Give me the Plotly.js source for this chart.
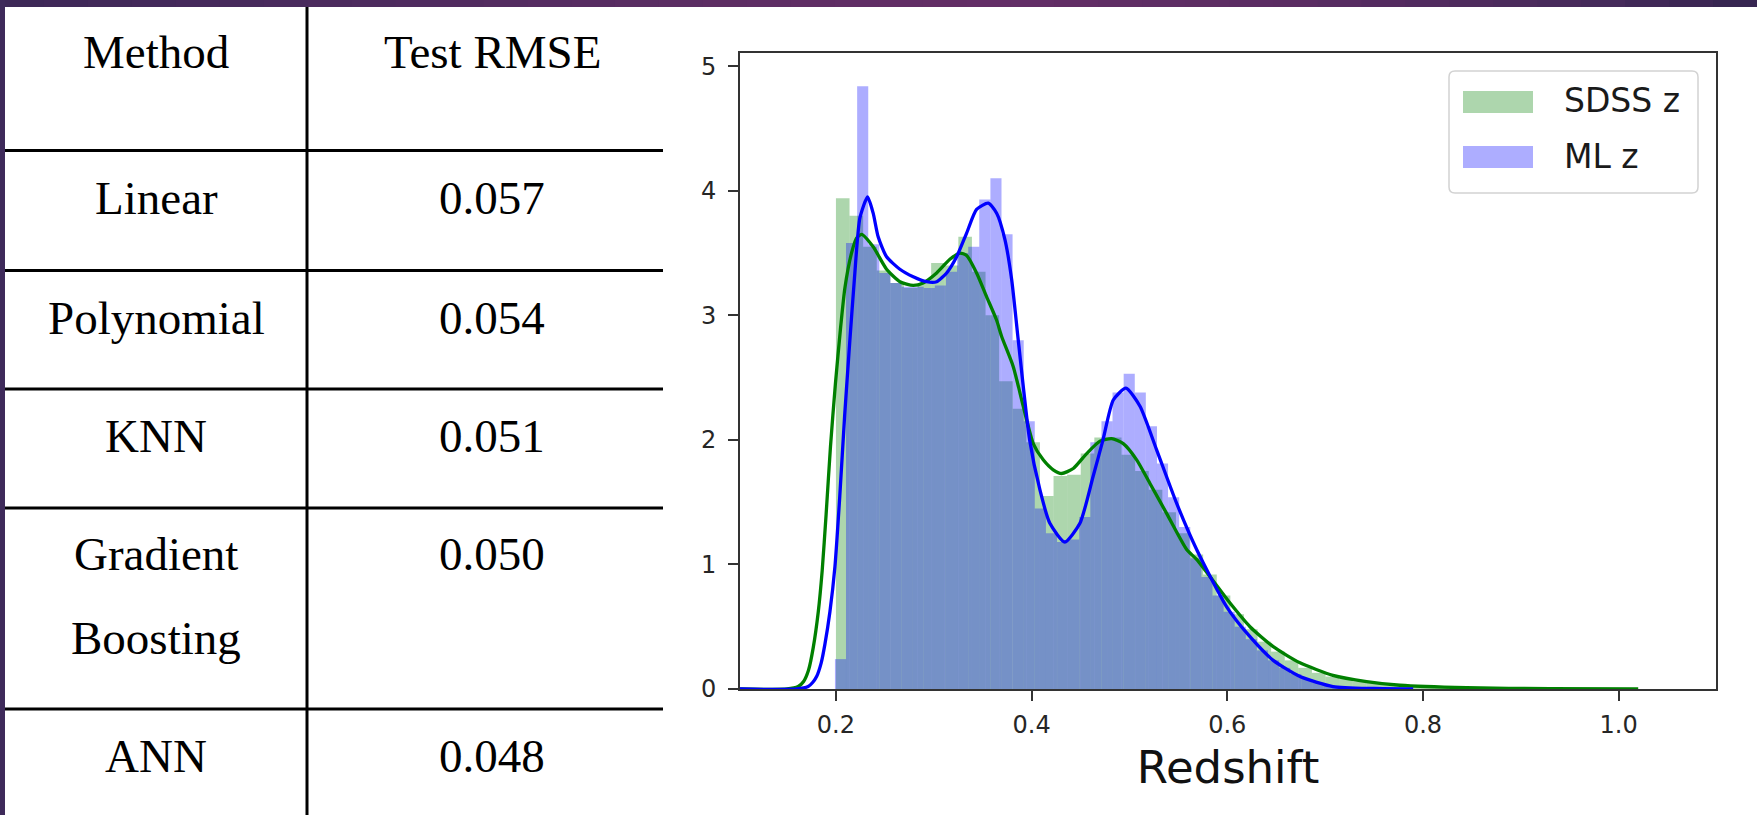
<!DOCTYPE html>
<html>
<head>
<meta charset="utf-8">
<script src="https://cdn.plot.ly/plotly-3.0.1.min.js"></script>
<style>
html,body{margin:0;padding:0;background:#ffffff;overflow:hidden;}
#chart{width:1757px;height:815px;}
</style>
</head>
<body>
<div id="chart"></div>
<script>
// ---------------- DATA ----------------
const tableHeader = ["Method", "Test RMSE"];
const methods = ["Linear", "Polynomial", "KNN", "Gradient Boosting", "ANN"];
const testRmse = [0.057, 0.054, 0.051, 0.050, 0.048];

const seriesNames = ["SDSS z", "ML z"];

const sdssBinCenters = [0.2070,0.2209,0.2348,0.2487,0.2626,0.2765,0.2904,0.3043,0.3182,0.3321,
  0.3460,0.3599,0.3738,0.3877,0.4016,0.4155,0.4294,0.4433,0.4572,0.4711,
  0.4850,0.4989,0.5128,0.5267,0.5406,0.5545,0.5684,0.5823,0.5962,0.6101,
  0.6240,0.6379,0.6518,0.6657,0.6796,0.6935,0.7074,0.7213,0.7352,0.7491,
  0.7630,0.7769,0.7908,0.8047,0.8186];
const sdssBinHeights = [3.94,3.80,3.55,3.36,3.26,3.22,3.26,3.42,3.40,3.63,
  3.35,3.00,2.47,2.25,1.98,1.55,1.71,1.72,1.89,2.02,
  2.02,1.88,1.75,1.60,1.42,1.25,1.08,0.92,0.75,0.60,
  0.48,0.38,0.30,0.23,0.17,0.13,0.10,0.08,0.06,0.05,
  0.04,0.03,0.02,0.015,0.01];

const mlBinCenters = [0.2047,0.2160,0.2274,0.2387,0.2501,0.2614,0.2728,0.2841,0.2955,0.3068,
  0.3182,0.3295,0.3409,0.3522,0.3636,0.3749,0.3863,0.3976,0.4090,0.4203,
  0.4317,0.4430,0.4544,0.4657,0.4771,0.4884,0.4998,0.5111,0.5225,0.5338,
  0.5452,0.5565,0.5679,0.5792,0.5906,0.6019,0.6133,0.6246,0.6360,0.6473,
  0.6587,0.6700,0.6814,0.6927,0.7041,0.7154,0.7268];
const mlBinHeights = [0.24,3.58,4.84,3.57,3.34,3.26,3.23,3.23,3.22,3.24,
  3.35,3.50,3.55,3.93,4.10,3.65,2.80,2.15,1.45,1.25,
  1.18,1.20,1.38,1.98,2.15,2.38,2.53,2.38,2.11,1.81,
  1.54,1.30,1.05,0.90,0.75,0.62,0.50,0.40,0.31,0.23,
  0.17,0.12,0.08,0.05,0.03,0.02,0.01];

const sdssKdeX = [0.102,0.150,0.1615,0.167,0.172,0.1768,0.182,0.186,0.190,0.1945,0.1995,0.2048,0.2092,0.2160,0.2211,0.2263,
  0.2381,0.2518,0.2654,0.2790,0.2892,0.3030,0.3165,0.3268,0.3336,0.3438,0.3540,0.3643,0.3694,0.3812,0.3915,
  0.4017,0.4119,0.4221,0.4307,0.4426,0.4563,0.4699,0.4818,0.4937,0.5074,0.5210,0.5380,0.5585,0.5687,0.6028,
  0.6232,0.6470,0.6743,0.7080,0.7424,0.7765,0.8447,0.9300,1.0200];
const sdssKdeY = [0,0,0.02,0.06,0.15,0.33,0.62,0.95,1.40,1.95,2.45,2.90,3.22,3.50,3.62,3.65,
  3.55,3.37,3.27,3.24,3.26,3.34,3.45,3.50,3.48,3.34,3.15,2.96,2.83,2.59,2.27,
  1.97,1.84,1.76,1.73,1.77,1.89,1.99,2.01,1.97,1.84,1.65,1.41,1.12,1.04,0.69,
  0.50,0.34,0.21,0.11,0.06,0.03,0.01,0.003,0];

const mlKdeX = [0.102,0.160,0.1717,0.1760,0.1803,0.1850,0.1888,0.1939,0.1990,0.2040,0.2090,0.2143,0.2190,0.2245,0.2324,0.2381,0.2432,
  0.2518,0.2654,0.2790,0.2926,0.3030,0.3132,0.3234,0.3336,0.3438,0.3557,0.3643,0.3727,0.3796,0.3864,0.3980,
  0.4085,0.4187,0.4340,0.4494,0.4630,0.4730,0.4835,0.4964,0.5108,0.5278,0.5483,0.5687,0.5994,0.6232,0.6470,
  0.6743,0.7080,0.7500,0.7900];
const mlKdeY = [0,0,0.02,0.05,0.10,0.21,0.36,0.62,0.98,1.55,2.20,2.80,3.30,3.78,3.95,3.82,3.63,
  3.47,3.37,3.31,3.27,3.27,3.34,3.47,3.66,3.85,3.90,3.82,3.61,3.29,2.80,2.00,
  1.60,1.33,1.18,1.33,1.71,2.00,2.32,2.415,2.27,1.92,1.49,1.12,0.66,0.42,0.23,
  0.10,0.02,0.004,0];

const xTickVals = [0.2, 0.4, 0.6, 0.8, 1.0];
const xTickText = ["0.2", "0.4", "0.6", "0.8", "1.0"];
const yTickVals = [0, 1, 2, 3, 4, 5];
const xTitle = "Redshift";

// ---------------- LAYOUT HELPERS ----------------
const W = 1757, H = 815;
const M = {l: 740, r: 41, t: 53, b: 126};
const PW = W - M.l - M.r, PH = H - M.t - M.b;
const px = v => (v - M.l) / PW;
const py = v => (H - M.b - v) / PH;

const SERIF = "Liberation Serif, Times New Roman, serif";
const SANS = "DejaVu Sans, sans-serif";
const greenFill = "rgba(0,128,0,0.32)";
const blueFill = "rgba(0,0,255,0.32)";

const shapes = [];
const annotations = [];

const stops = [[0,[60,40,87]],[300,[74,42,93]],[700,[92,45,99]],[1000,[99,46,102]],[1300,[90,44,98]],[1600,[69,42,90]],[1757,[53,37,80]]];
function colAt(x){
  for (let i=0;i<stops.length-1;i++){
    const a=stops[i], b=stops[i+1];
    if (x>=a[0] && x<=b[0]){
      const t=(x-a[0])/(b[0]-a[0]);
      const c=a[1].map((v,k)=>Math.round(v+(b[1][k]-v)*t));
      return `rgb(${c[0]},${c[1]},${c[2]})`;
    }
  }
  return "rgb(53,37,80)";
}
const seg = 40;
for (let i=0;i<seg;i++){
  const x0 = W*i/seg, x1 = W*(i+1)/seg;
  shapes.push({type:"rect", xref:"paper", yref:"paper", x0:px(x0), x1:px(x1+1), y0:py(7), y1:py(0),
    fillcolor: colAt((x0+x1)/2), line:{width:0}, layer:"above"});
}
shapes.push({type:"rect", xref:"paper", yref:"paper", x0:px(0), x1:px(5), y0:py(815), y1:py(0),
  fillcolor:"rgb(62,42,90)", line:{width:0}, layer:"above"});

const rowLines = [150.5, 270.5, 389, 508, 709];
rowLines.forEach(y => shapes.push({type:"line", xref:"paper", yref:"paper", x0:px(5), x1:px(663), y0:py(y), y1:py(y),
  line:{color:"#000", width:3}}));
shapes.push({type:"line", xref:"paper", yref:"paper", x0:px(307), x1:px(307), y0:py(7), y1:py(815),
  line:{color:"#000", width:3}});

const colX = [156, 492];
const headerY = 51.7;
const rowY = [197.5, 318.3, 436.2, 554.2, 755.8];
const lineGap = 83.3;
const tfont = {family: SERIF, size: 47, color: "#000"};
tableHeader.forEach((t,i) => annotations.push({xref:"paper", yref:"paper", x:px(colX[i]), y:py(headerY),
  text:t, showarrow:false, xanchor:"center", yanchor:"middle", font:tfont}));
methods.forEach((m,i) => {
  const words = (m.indexOf(" ")>0 && m.length>12) ? m.split(" ") : [m];
  words.forEach((w,k) => annotations.push({xref:"paper", yref:"paper", x:px(colX[0]), y:py(rowY[i]+k*lineGap),
    text:w, showarrow:false, xanchor:"center", yanchor:"middle", font:tfont}));
  annotations.push({xref:"paper", yref:"paper", x:px(colX[1]), y:py(rowY[i]),
    text:testRmse[i].toFixed(3), showarrow:false, xanchor:"center", yanchor:"middle", font:tfont});
});

function roundRect(x0,y0,x1,y1,r){
  const X=px, Y=py;
  return `M ${X(x0+r)},${Y(y0)} L ${X(x1-r)},${Y(y0)} Q ${X(x1)},${Y(y0)} ${X(x1)},${Y(y0+r)} ` +
         `L ${X(x1)},${Y(y1-r)} Q ${X(x1)},${Y(y1)} ${X(x1-r)},${Y(y1)} L ${X(x0+r)},${Y(y1)} ` +
         `Q ${X(x0)},${Y(y1)} ${X(x0)},${Y(y1-r)} L ${X(x0)},${Y(y0+r)} Q ${X(x0)},${Y(y0)} ${X(x0+r)},${Y(y0)} Z`;
}
shapes.push({type:"path", xref:"paper", yref:"paper", path:roundRect(1449,71,1698,193,6),
  fillcolor:"rgba(255,255,255,0.85)", line:{color:"#d2d2d2", width:1.5}, layer:"above"});
const legFills = [greenFill, blueFill];
const legY = [[91,113],[146,168]];
seriesNames.forEach((n,i) => {
  shapes.push({type:"rect", xref:"paper", yref:"paper", x0:px(1463), x1:px(1533), y0:py(legY[i][1]), y1:py(legY[i][0]),
    fillcolor:legFills[i], line:{width:0}, layer:"above"});
  annotations.push({xref:"paper", yref:"paper", x:px(1562), y:py((legY[i][0]+legY[i][1])/2 - 1),
    text:n, showarrow:false, xanchor:"left", yanchor:"middle", font:{family:SANS, size:33, color:"#1a1a1a"}});
});

const traces = [
  {type:"bar", name:seriesNames[0], x:sdssBinCenters, y:sdssBinHeights, width:0.0139,
   marker:{color:greenFill, line:{width:0}}, showlegend:false, hoverinfo:"skip"},
  {type:"scatter", mode:"lines", name:seriesNames[0]+" KDE", x:sdssKdeX, y:sdssKdeY,
   line:{color:"#008000", width:3.3, shape:"spline", smoothing:0.6}, showlegend:false, hoverinfo:"skip"},
  {type:"bar", name:seriesNames[1], x:mlBinCenters, y:mlBinHeights, width:0.01135,
   marker:{color:blueFill, line:{width:0}}, showlegend:false, hoverinfo:"skip"},
  {type:"scatter", mode:"lines", name:seriesNames[1]+" KDE", x:mlKdeX, y:mlKdeY,
   line:{color:"#0000ff", width:3.3, shape:"spline", smoothing:0.6}, showlegend:false, hoverinfo:"skip"}
];

function axisBase(){
  return {
    showline:true, linecolor:"#333", linewidth:2, mirror:true,
    ticks:"outside", ticklen:10, tickwidth:2, tickcolor:"#333",
    showgrid:false, zeroline:false, automargin:false,
    tickfont:{family:SANS, size:24, color:"#262626"}
  };
}

const layout = {
  width:W, height:H,
  margin:{l:M.l, r:M.r, t:M.t, b:M.b, pad:0},
  paper_bgcolor:"#ffffff", plot_bgcolor:"#ffffff",
  barmode:"overlay", showlegend:false, hovermode:false,
  xaxis: Object.assign(axisBase(), {
    range:[0.102, 1.0995], tickmode:"array", tickvals:xTickVals, ticktext:xTickText,
    ticklabelstandoff:3,
    title:{text:xTitle, font:{family:SANS, size:45, color:"#111"}, standoff:14}
  }),
  yaxis: Object.assign(axisBase(), {
    range:[0, 5.106], tickmode:"array", tickvals:yTickVals, ticktext:yTickVals.map(String),
    ticklabelstandoff:7
  }),
  shapes:shapes, annotations:annotations
};

Plotly.newPlot("chart", traces, layout, {displayModeBar:false, staticPlot:true});
</script>
</body>
</html>
